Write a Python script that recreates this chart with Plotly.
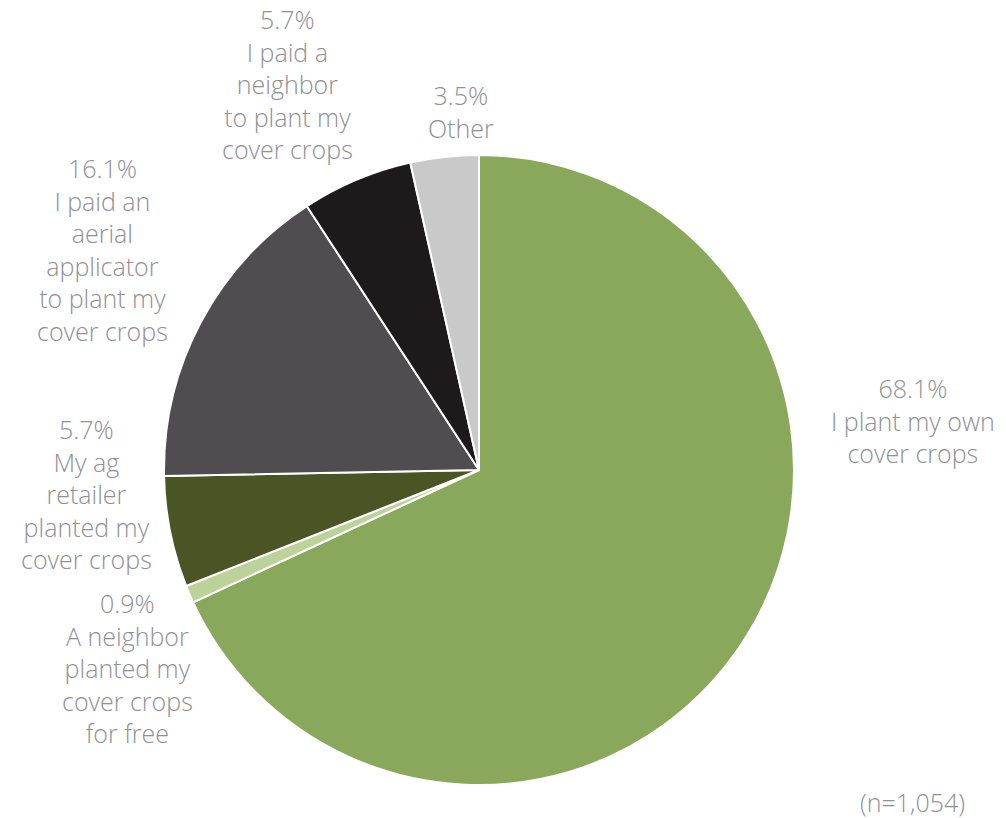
import plotly.graph_objects as go

labels = [
    "I plant my own cover crops",
    "A neighbor planted my cover crops for free",
    "My ag retailer planted my cover crops",
    "I paid an aerial applicator to plant my cover crops",
    "I paid a neighbor to plant my cover crops",
    "Other",
]
values = [68.1, 0.9, 5.7, 16.1, 5.7, 3.5]
label_lines = [
    ["I plant my own", "cover crops"],
    ["A neighbor", "planted my", "cover crops", "for free"],
    ["My ag", "retailer", "planted my", "cover crops"],
    ["I paid an", "aerial", "applicator", "to plant my", "cover crops"],
    ["I paid a", "neighbor", "to plant my", "cover crops"],
    ["Other"],
]
colors = ["#8aa85b", "#bcd29a", "#4a5425", "#504d50", "#1d1a1b", "#c9c9c9"]
sample_note = "(n=1,054)"

W, H = 1006, 818


def px(x):
    return x / W


def py(y):
    return 1 - y / H


# label block centres in window pixels
label_pos = [(913, 420), (128, 668), (86, 494), (102, 249), (287, 84), (461, 112)]

fig = go.Figure(
    go.Pie(
        labels=labels,
        values=values,
        sort=False,
        direction="clockwise",
        rotation=0,
        marker=dict(colors=colors, line=dict(color="white", width=2)),
        textinfo="none",
        hoverinfo="label+percent",
        domain=dict(x=[px(164), px(794)], y=[py(785), py(155)]),
    )
)

font = dict(family="Open Sans", size=25, color="#909095", weight=300)
for v, lines, (x0, y0) in zip(values, label_lines, label_pos):
    fig.add_annotation(
        text="<br>".join([f"{v:.1f}%"] + lines),
        x=px(x0), y=py(y0), xref="paper", yref="paper",
        xanchor="center", yanchor="middle", align="center",
        showarrow=False, font=font,
    )

fig.add_annotation(
    text=sample_note, x=px(912), y=py(802), xref="paper", yref="paper",
    xanchor="center", yanchor="middle", showarrow=False, font=font,
)

fig.update_layout(
    width=W, height=H,
    margin=dict(l=0, r=0, t=0, b=0),
    showlegend=False,
    paper_bgcolor="white",
    plot_bgcolor="white",
)
# drop the default body margin so the figure fills the window exactly
fig.write_html(
    "out.html",
    config={"displayModeBar": False},
    post_script="document.body.style.margin = '0';",
)
